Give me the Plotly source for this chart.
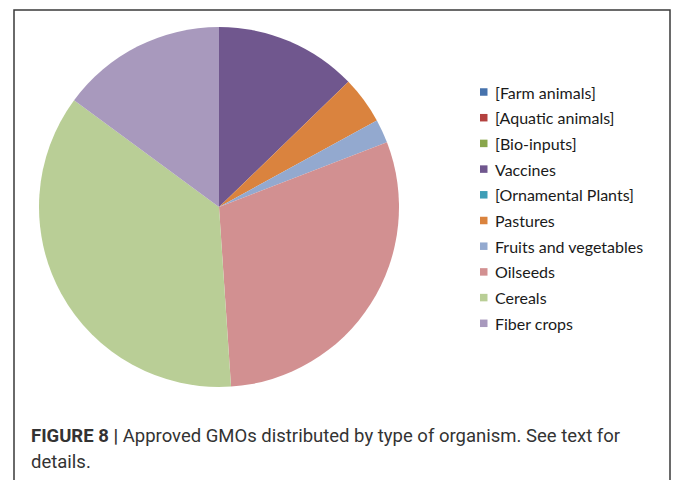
import plotly.graph_objects as go

W, H = 673, 480

categories = ["[Farm animals]", "[Aquatic animals]", "[Bio-inputs]", "Vaccines",
              "[Ornamental Plants]", "Pastures", "Fruits and vegetables", "Oilseeds",
              "Cereals", "Fiber crops"]
counts = [0, 0, 0, 6, 0, 2, 1, 14, 17, 7]
colors = ["#4672AC", "#B3413F", "#89A64C", "#70578E", "#3E9DB6", "#DA833E",
          "#93A9CF", "#D29091", "#B9CE96", "#A899BD"]

caption_bold = "FIGURE 8 |"
caption_line1 = " Approved GMOs distributed by type of organism. See text for"
caption_line2 = "details."


def fx(px):
    return px / W


def fy(py):
    return 1 - py / H


cx, cy, r = 219, 207, 180

fig = go.Figure()
fig.add_trace(go.Pie(
    labels=categories, values=counts, sort=False, direction="clockwise", rotation=0,
    marker=dict(colors=colors, line=dict(width=0)), textinfo="none", hoverinfo="label+value+percent",
    showlegend=False,
    domain=dict(x=[fx(cx - r), fx(cx + r)], y=[fy(cy + r), fy(cy - r)]),
))

shapes = []
annotations = []
# figure frame
shapes.append(dict(type="rect", xref="paper", yref="paper", x0=fx(14), x1=fx(670), y0=fy(10), y1=fy(495),
                   line=dict(color="#3a3a3a", width=1.5), fillcolor="rgba(0,0,0,0)"))

# legend
lx, ly0, step, sq = 480, 92, 25.7, 7.5
for i, (lab, col) in enumerate(zip(categories, colors)):
    yc = ly0 + i * step
    shapes.append(dict(type="rect", xref="paper", yref="paper", x0=fx(lx), x1=fx(lx + sq),
                       y0=fy(yc + sq / 2), y1=fy(yc - sq / 2), line=dict(width=0), fillcolor=col))
    annotations.append(dict(xref="paper", yref="paper", x=fx(493), y=fy(yc), xanchor="left", yanchor="middle",
                            text=lab, showarrow=False, font=dict(family="Lato", size=16, color="#1a1a1a")))

cap_font = dict(family="Roboto", size=18.5, color="#333333")
annotations.append(dict(xref="paper", yref="paper", x=fx(29), y=fy(436), xanchor="left", yanchor="middle",
                        align="left", showarrow=False,
                        text="<b>" + caption_bold + "</b>" + caption_line1, font=cap_font))
annotations.append(dict(xref="paper", yref="paper", x=fx(29), y=fy(462), xanchor="left", yanchor="middle",
                        align="left", showarrow=False, text=caption_line2, font=cap_font))

fig.update_layout(width=W, height=H, autosize=False, margin=dict(l=0, r=0, t=0, b=0),
                  paper_bgcolor="white", plot_bgcolor="white", shapes=shapes, annotations=annotations)

fig.write_html("out.html", config={"displayModeBar": False},
               post_script="document.body.style.margin='0';")
